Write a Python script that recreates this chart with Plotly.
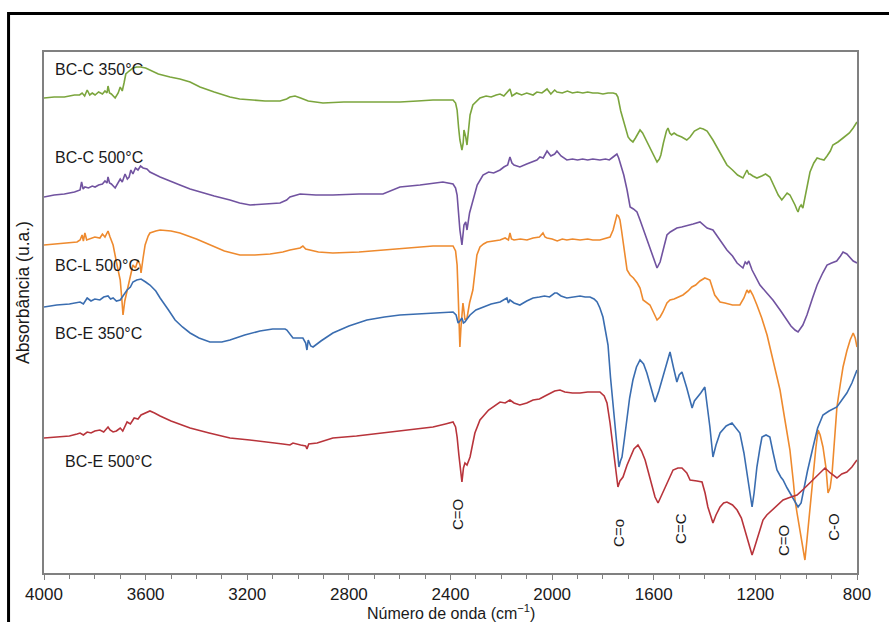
import plotly.graph_objects as go

# FTIR spectra of the biochars: (wavenumber cm-1, absorbance u.a.), vertically offset per sample
bcc350 = [(4000,4.75),(3960,4.76),(3920,4.76),(3900,4.77),(3880,4.78),(3860,4.78),(3850,4.80),(3840,4.77),
          (3830,4.83),(3820,4.78),(3810,4.80),(3799,4.78),(3785,4.81),(3770,4.79),(3760,4.82),(3752,4.80),
          (3748,4.87),(3742,4.80),(3735,4.79),(3720,4.75),(3708,4.80),(3700,4.86),(3692,4.82),(3685,4.90),
          (3678,4.99),(3665,5.02),(3650,5.05),(3635,5.06),(3620,5.06),(3600,5.05),(3583,5.03),(3550,4.99),
          (3504,4.96),(3465,4.94),(3425,4.91),(3386,4.86),(3330,4.81),(3268,4.76),(3230,4.74),(3189,4.73),
          (3130,4.72),(3071,4.72),(3045,4.74),(3032,4.76),(3012,4.77),(2990,4.75),(2960,4.72),(2902,4.70),
          (2820,4.71),(2729,4.71),(2660,4.71),(2599,4.71),(2530,4.72),(2469,4.73),(2420,4.73),(2390,4.73),
          (2380,4.70),(2374,4.63),(2368,4.45),(2363,4.33),(2355,4.23),(2350,4.30),(2347,4.43),(2343,4.40),
          (2340,4.36),(2335,4.28),(2328,4.45),(2323,4.58),(2312,4.68),(2298,4.72),(2284,4.75),(2260,4.77),
          (2240,4.76),(2220,4.78),(2205,4.79),(2190,4.77),(2175,4.82),(2166,4.84),(2158,4.77),(2140,4.80),
          (2120,4.78),(2100,4.80),(2075,4.78),(2060,4.81),(2040,4.80),(2020,4.84),(2005,4.79),(1990,4.83),
          (1981,4.81),(1960,4.80),(1940,4.82),(1920,4.80),(1900,4.81),(1879,4.80),(1860,4.81),(1840,4.80),
          (1820,4.80),(1800,4.79),(1780,4.80),(1760,4.80),(1748,4.79),(1741,4.76),(1730,4.62),(1721,4.53),
          (1710,4.42),(1701,4.36),(1692,4.33),(1682,4.31),(1672,4.35),(1666,4.38),(1654,4.43),(1644,4.40),
          (1634,4.35),(1620,4.28),(1607,4.21),(1595,4.14),(1587,4.11),(1578,4.14),(1572,4.18),(1562,4.30),
          (1556,4.38),(1550,4.42),(1544,4.45),(1537,4.40),(1530,4.38),(1520,4.40),(1509,4.38),(1490,4.36),
          (1470,4.33),(1457,4.36),(1440,4.42),(1418,4.45),(1405,4.44),(1390,4.42),(1367,4.33),(1350,4.25),
          (1330,4.15),(1312,4.08),(1290,4.03),(1270,3.98),(1249,3.95),(1240,4.00),(1233,4.03),(1226,3.99),
          (1221,3.99),(1210,3.97),(1194,3.95),(1175,3.97),(1160,3.99),(1143,3.96),(1125,3.86),(1110,3.78),
          (1096,3.73),(1085,3.77),(1075,3.80),(1064,3.78),(1055,3.74),(1044,3.68),(1036,3.63),(1032,3.61),
          (1026,3.66),(1020,3.68),(1013,3.65),(1005,3.75),(997,3.88),(985,4.01),(970,4.10),(957,4.15),
          (945,4.14),(930,4.13),(918,4.17),(905,4.22),(895,4.28),(875,4.31),(855,4.35),(845,4.37),
          (830,4.40),(815,4.45),(800,4.51)]

bcc500 = [(4000,3.76),(3960,3.78),(3920,3.79),(3900,3.80),(3880,3.81),(3858,3.83),(3852,3.91),(3846,3.84),
          (3839,3.86),(3825,3.85),(3810,3.87),(3799,3.86),(3785,3.88),(3770,3.89),(3760,3.92),(3752,3.90),
          (3748,3.96),(3742,3.90),(3735,3.89),(3720,3.85),(3710,3.90),(3700,3.94),(3692,3.91),(3681,3.99),
          (3672,3.94),(3665,3.96),(3658,4.03),(3650,3.99),(3640,4.05),(3630,4.03),(3620,4.07),(3610,4.05),
          (3595,4.04),(3583,4.01),(3543,3.96),(3500,3.92),(3465,3.88),(3425,3.84),(3386,3.81),(3330,3.77),
          (3268,3.73),(3230,3.70),(3189,3.68),(3130,3.69),(3071,3.70),(3045,3.73),(3032,3.76),(2992,3.79),
          (2930,3.78),(2863,3.78),(2760,3.79),(2666,3.79),(2630,3.83),(2599,3.86),(2520,3.88),(2470,3.90),
          (2430,3.91),(2390,3.89),(2380,3.85),(2374,3.78),(2368,3.55),(2363,3.43),(2355,3.28),(2350,3.38),
          (2347,3.48),(2340,3.51),(2335,3.43),(2325,3.60),(2312,3.73),(2295,3.88),(2272,3.98),(2250,4.01),
          (2230,4.00),(2205,4.03),(2190,4.06),(2175,4.08),(2166,4.16),(2158,4.10),(2150,4.08),(2127,4.06),
          (2100,4.09),(2075,4.12),(2060,4.13),(2048,4.16),(2035,4.15),(2020,4.22),(2005,4.17),(1990,4.19),
          (1981,4.22),(1965,4.17),(1942,4.13),(1920,4.14),(1900,4.13),(1880,4.14),(1860,4.13),(1840,4.14),
          (1812,4.13),(1790,4.14),(1775,4.13),(1760,4.16),(1745,4.19),(1738,4.15),(1733,4.11),(1718,3.98),
          (1705,3.83),(1693,3.66),(1680,3.64),(1666,3.61),(1654,3.53),(1640,3.43),(1627,3.33),(1607,3.18),
          (1595,3.10),(1587,3.05),(1575,3.11),(1562,3.25),(1548,3.38),(1535,3.41),(1524,3.43),(1509,3.45),
          (1490,3.46),(1470,3.47),(1445,3.49),(1418,3.51),(1405,3.48),(1390,3.45),(1367,3.43),(1339,3.33),
          (1312,3.23),(1290,3.17),(1272,3.10),(1249,3.05),(1240,3.11),(1233,3.09),(1226,3.12),(1213,3.03),
          (1182,2.88),(1155,2.80),(1131,2.73),(1100,2.62),(1076,2.53),(1060,2.47),(1044,2.43),(1032,2.41),
          (1013,2.48),(997,2.58),(975,2.75),(957,2.88),(935,3.00),(918,3.08),(900,3.10),(880,3.12),
          (865,3.17),(855,3.21),(840,3.19),(827,3.15),(815,3.12),(800,3.10)]

bcl500 = [(4000,3.28),(3950,3.29),(3900,3.30),(3870,3.31),(3858,3.33),(3850,3.38),(3845,3.32),(3839,3.40),
          (3832,3.33),(3820,3.34),(3800,3.36),(3780,3.35),(3770,3.39),(3760,3.36),(3748,3.42),(3740,3.36),
          (3735,3.33),(3728,3.28),(3715,3.11),(3700,2.93),(3694,2.75),(3689,2.58),(3682,2.72),(3673,2.83),
          (3660,2.96),(3650,3.08),(3640,3.05),(3630,3.13),(3622,3.08),(3618,3.00),(3610,3.15),(3602,3.28),
          (3590,3.37),(3583,3.40),(3560,3.42),(3543,3.43),(3500,3.42),(3465,3.40),(3400,3.34),(3347,3.28),
          (3290,3.22),(3229,3.18),(3170,3.18),(3110,3.19),(3060,3.21),(3032,3.23),(2992,3.25),(2981,3.27),
          (2970,3.24),(2920,3.21),(2863,3.20),(2760,3.21),(2666,3.23),(2560,3.25),(2469,3.27),(2420,3.27),
          (2390,3.27),(2380,3.22),(2374,3.08),(2370,2.80),(2367,2.53),(2363,2.26),(2359,2.45),(2355,2.63),
          (2351,2.70),(2347,2.62),(2343,2.53),(2335,2.55),(2325,2.70),(2312,2.83),(2296,3.18),(2284,3.26),
          (2270,3.29),(2256,3.31),(2230,3.32),(2205,3.33),(2185,3.35),(2172,3.33),(2166,3.40),(2160,3.34),
          (2150,3.33),(2125,3.34),(2099,3.33),(2075,3.35),(2050,3.36),(2036,3.40),(2028,3.36),(2020,3.35),
          (2000,3.34),(1980,3.32),(1960,3.34),(1942,3.33),(1920,3.34),(1890,3.33),(1860,3.34),(1840,3.33),
          (1812,3.33),(1790,3.35),(1772,3.36),(1760,3.43),(1752,3.53),(1745,3.58),(1739,3.57),(1733,3.53),
          (1727,3.43),(1721,3.33),(1712,3.15),(1705,3.03),(1693,2.98),(1680,2.95),(1665,2.90),(1654,2.85),
          (1642,2.73),(1630,2.71),(1615,2.68),(1600,2.60),(1587,2.53),(1575,2.56),(1564,2.61),(1548,2.70),
          (1536,2.73),(1520,2.74),(1500,2.76),(1485,2.78),(1465,2.82),(1450,2.86),(1435,2.88),(1418,2.92),
          (1399,2.95),(1379,2.93),(1360,2.78),(1339,2.71),(1320,2.70),(1290,2.68),(1261,2.68),(1245,2.75),
          (1233,2.83),(1226,2.80),(1221,2.83),(1210,2.78),(1194,2.68),(1175,2.55),(1154,2.38),(1130,2.12),
          (1103,1.83),(1085,1.55),(1064,1.23),(1050,0.90),(1044,0.73),(1036,0.60),(1024,0.40),(1013,0.25),
          (1005,0.13),(997,0.33),(985,0.66),(973,1.00),(962,1.25),(953,1.43),(945,1.38),(934,1.26),
          (922,1.05),(914,0.80),(906,0.85),(898,1.00),(888,1.35),(879,1.66),(865,1.90),(855,2.06),
          (840,2.22),(827,2.33),(815,2.40),(807,2.35),(800,2.26)]

bce350 = [(4000,2.66),(3950,2.68),(3900,2.69),(3870,2.70),(3858,2.71),(3845,2.69),(3830,2.75),(3815,2.72),
          (3800,2.74),(3780,2.73),(3765,2.76),(3748,2.77),(3738,2.74),(3728,2.75),(3715,2.72),(3700,2.73),
          (3685,2.78),(3673,2.83),(3660,2.86),(3650,2.91),(3635,2.93),(3618,2.94),(3600,2.91),(3583,2.88),
          (3560,2.82),(3543,2.75),(3510,2.63),(3484,2.53),(3455,2.46),(3425,2.40),(3390,2.35),(3347,2.31),
          (3300,2.31),(3268,2.33),(3210,2.38),(3150,2.42),(3100,2.44),(3051,2.44),(3044,2.43),(3030,2.38),
          (3020,2.35),(2981,2.35),(2970,2.30),(2965,2.23),(2960,2.33),(2950,2.27),(2941,2.26),(2910,2.32),
          (2863,2.40),(2800,2.47),(2729,2.53),(2660,2.56),(2599,2.58),(2530,2.59),(2469,2.60),(2420,2.61),
          (2390,2.61),(2378,2.58),(2370,2.50),(2363,2.52),(2355,2.55),(2349,2.50),(2343,2.51),(2335,2.54),
          (2323,2.58),(2300,2.63),(2272,2.66),(2240,2.69),(2205,2.71),(2190,2.73),(2178,2.75),(2172,2.70),
          (2166,2.73),(2150,2.70),(2127,2.68),(2100,2.72),(2075,2.75),(2050,2.76),(2030,2.77),(2010,2.76),
          (1990,2.80),(1981,2.80),(1965,2.77),(1942,2.75),(1920,2.76),(1890,2.77),(1870,2.76),(1851,2.76),
          (1835,2.74),(1823,2.71),(1812,2.65),(1800,2.56),(1790,2.42),(1780,2.28),(1770,1.95),(1760,1.66),
          (1752,1.45),(1745,1.26),(1737,1.06),(1731,1.12),(1725,1.16),(1715,1.35),(1705,1.56),(1695,1.75),
          (1682,1.93),(1668,2.06),(1654,2.13),(1640,2.09),(1627,2.00),(1610,1.85),(1595,1.71),(1580,1.82),
          (1564,1.96),(1550,2.10),(1536,2.21),(1522,2.05),(1509,1.91),(1500,1.98),(1489,2.01),(1470,1.85),
          (1449,1.65),(1440,1.72),(1430,1.75),(1415,1.80),(1399,1.86),(1390,1.70),(1379,1.46),(1367,1.16),
          (1355,1.28),(1339,1.40),(1315,1.47),(1292,1.50),(1275,1.45),(1261,1.40),(1245,1.20),(1233,1.00),
          (1222,0.78),(1213,0.66),(1205,0.80),(1194,1.06),(1182,1.25),(1174,1.36),(1158,1.38),(1143,1.36),
          (1130,1.20),(1115,1.03),(1100,0.96),(1091,0.93),(1075,0.85),(1064,0.80),(1048,0.72),(1032,0.66),
          (1020,0.70),(1013,0.80),(995,1.02),(973,1.26),(955,1.45),(934,1.58),(910,1.62),(879,1.66),
          (860,1.73),(840,1.80),(820,1.90),(800,2.03)]

bce500 = [(4000,1.35),(3950,1.36),(3900,1.37),(3870,1.39),(3858,1.40),(3845,1.38),(3830,1.41),(3815,1.40),
          (3800,1.42),(3780,1.43),(3765,1.41),(3748,1.46),(3740,1.43),(3728,1.41),(3715,1.42),(3700,1.45),
          (3690,1.42),(3673,1.51),(3660,1.49),(3645,1.55),(3630,1.54),(3618,1.58),(3600,1.60),(3583,1.62),
          (3565,1.60),(3543,1.57),(3500,1.52),(3460,1.48),(3425,1.45),(3350,1.40),(3268,1.35),(3190,1.33),
          (3110,1.31),(3060,1.29),(3032,1.28),(3020,1.30),(2990,1.28),(2970,1.27),(2965,1.24),(2958,1.29),
          (2925,1.30),(2863,1.35),(2770,1.37),(2666,1.40),(2560,1.43),(2469,1.46),(2420,1.49),(2390,1.51),
          (2380,1.46),(2374,1.36),(2367,1.18),(2360,1.00),(2355,0.91),(2349,1.05),(2343,1.10),(2335,1.08),
          (2323,1.16),(2312,1.30),(2304,1.40),(2284,1.53),(2250,1.63),(2205,1.71),(2185,1.70),(2166,1.73),
          (2150,1.70),(2127,1.68),(2100,1.70),(2075,1.73),(2050,1.74),(2028,1.77),(2010,1.79),(1990,1.82),
          (1969,1.83),(1950,1.81),(1920,1.80),(1890,1.80),(1860,1.81),(1830,1.81),(1812,1.81),(1795,1.77),
          (1784,1.70),(1772,1.50),(1760,1.23),(1750,1.00),(1741,0.86),(1733,0.92),(1721,0.96),(1705,1.08),
          (1693,1.16),(1678,1.24),(1662,1.28),(1648,1.22),(1634,1.13),(1620,1.00),(1607,0.86),(1595,0.76),
          (1583,0.70),(1565,0.80),(1548,0.90),(1535,0.98),(1524,1.03),(1505,1.05),(1489,1.05),(1470,1.00),
          (1457,0.93),(1430,0.92),(1410,0.91),(1398,0.80),(1387,0.66),(1377,0.58),(1367,0.50),(1355,0.58),
          (1339,0.66),(1325,0.70),(1312,0.71),(1290,0.68),(1272,0.63),(1255,0.55),(1241,0.43),(1225,0.28),
          (1213,0.18),(1204,0.25),(1194,0.33),(1182,0.45),(1170,0.53),(1155,0.58),(1143,0.61),(1120,0.66),
          (1091,0.73),(1060,0.76),(1036,0.78),(1010,0.84),(973,0.93),(950,0.99),(926,1.05),(905,1.00),
          (879,0.95),(860,0.99),(840,1.01),(820,1.06),(800,1.13)]

sample_names = ["BC-C 350°C", "BC-C 500°C", "BC-L 500°C", "BC-E 350°C", "BC-E 500°C"]
sample_data = [bcc350, bcc500, bcl500, bce350, bce500]
sample_colors = ["#7BA53D", "#7153A0", "#EE8A2E", "#3A6DB0", "#B8343B"]

# sample name labels placed at the left of each spectrum
label_wn = [3965, 3965, 3965, 3965, 3925]
label_ab = [5.04, 4.16, 3.08, 2.40, 1.12]

# band assignments
band_names = ["C=O", "C=o", "C=C", "C=O", "C-O"]
band_wn = [2374, 1741, 1497, 1091, 895]
band_ab = [0.58, 0.40, 0.45, 0.32, 0.46]

FONT = "Liberation Sans, Arial, sans-serif"
INK = "#1a1a1a"

fig = go.Figure()
for name, pts, color in zip(sample_names, sample_data, sample_colors):
    wn, ab = zip(*pts)
    fig.add_trace(go.Scatter(x=list(wn), y=list(ab), mode="lines", name=name,
                             line=dict(color=color, width=1.6)))

for t, x, y in zip(sample_names, label_wn, label_ab):
    fig.add_annotation(x=x, y=y, text=t, showarrow=False, xanchor="left", yanchor="middle",
                       font=dict(family=FONT, size=16, color=INK))

for t, x, y in zip(band_names, band_wn, band_ab):
    fig.add_annotation(x=x, y=y, text=t, showarrow=False, textangle=-90,
                       xanchor="center", yanchor="middle",
                       font=dict(family=FONT, size=15, color=INK))

# axis titles
fig.add_annotation(xref="paper", yref="paper", x=0.5, y=-0.0749,
                   text="Número de onda (cm<sup>−1</sup>)",
                   showarrow=False, xanchor="center", yanchor="middle",
                   font=dict(family=FONT, size=16, color=INK))
fig.add_annotation(xref="paper", yref="paper", x=-0.026, y=0.539, text="Absorbância (u.a.)",
                   showarrow=False, textangle=-90, xanchor="center", yanchor="middle",
                   font=dict(family=FONT, size=17.5, color=INK))

# outer frame
fig.add_shape(type="rect", xref="paper", yref="paper", x0=-0.0436, x1=1.2, y0=-0.3, y1=1.0739,
              line=dict(color="black", width=3), fillcolor="rgba(0,0,0,0)", layer="above")

fig.update_layout(
    width=889, height=622,
    margin=dict(l=44, r=32, t=52, b=49),
    paper_bgcolor="white", plot_bgcolor="white",
    showlegend=False,
    font=dict(family=FONT, color=INK),
    xaxis=dict(range=[4000, 800], tickmode="array",
               tickvals=[4000, 3600, 3200, 2800, 2400, 2000, 1600, 1200, 800],
               ticks="outside", ticklen=5, tickcolor="#808080", tickwidth=1,
               minor=dict(dtick=100, tick0=800, ticks="outside", ticklen=4, tickcolor="#808080"),
               showline=True, linecolor="#808080", linewidth=1.5, mirror=True,
               showgrid=False, zeroline=False, tickfont=dict(family=FONT, size=17, color=INK)),
    yaxis=dict(range=[0, 5.21], showticklabels=False, ticks="", showgrid=False, zeroline=False,
               showline=True, linecolor="#808080", linewidth=1.5, mirror=True),
)

fig.write_html("out.html")
